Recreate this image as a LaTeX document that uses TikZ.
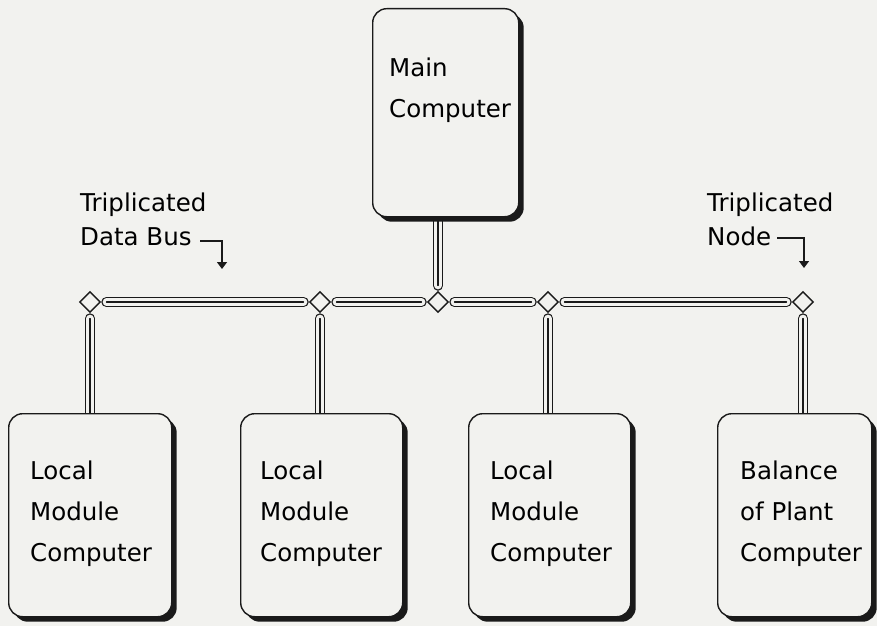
\documentclass[tikz,border=0pt]{standalone}
\usepackage{fontspec}
\setmainfont{DejaVu Sans}
\usetikzlibrary{shapes.geometric,arrows.meta,backgrounds,shadows}
\definecolor{paper}{HTML}{F2F2EF}
\definecolor{ink}{HTML}{1A1A1A}
\tikzset{
  % computer box with a solid offset shadow
  compbox/.style={draw=ink, line width=1.4pt, fill=paper, rounded corners=14pt,
    anchor=north west, inner sep=0pt,
    drop shadow={shadow xshift=5pt, shadow yshift=-5pt, fill=ink, opacity=1}},
  % left-aligned caption inside a box (placed by the baseline of its last line)
  boxtext/.style={anchor=base west, inner sep=0pt, align=left,
    font=\fontsize{24.5}{41}\selectfont},
  % bus junction
  junction/.style={diamond, draw=ink, line width=1.3pt, fill=paper,
    minimum width=24pt, minimum height=24pt, inner sep=0pt, outer sep=4.5pt},
  % triplicated bus line: three parallel strokes with rounded ends
  busline/.style={draw=ink, line width=1.3pt, line cap=round,
    preaction={draw=ink, line width=10.5pt, line cap=round},
    preaction={draw=paper, line width=7.7pt, line cap=round}},
  callout/.style={align=left, anchor=base west, inner sep=0pt,
    font=\fontsize{24.5}{34}\selectfont},
  pointer/.style={draw=ink, line width=1.4pt, -{Triangle[width=10pt,length=7pt]}}
}
\begin{document}
\begin{tikzpicture}[x=1pt, y=-1pt]
\useasboundingbox (0,0) rectangle (877,626);

% computers
\node[compbox, minimum width=146pt, minimum height=208pt] (main) at (372,8) {};
\node[boxtext] (mainTxt) at (389,117) {Main\\Computer};

\node[compbox, minimum width=163pt, minimum height=203pt] (lm1) at (8,413) {};
\node[compbox, minimum width=162pt, minimum height=203pt] (lm2) at (240,413) {};
\node[compbox, minimum width=162pt, minimum height=203pt] (lm3) at (468,413) {};
\node[compbox, minimum width=154pt, minimum height=203pt] (bop) at (717,413) {};

\node[boxtext] (t1) at (30,561) {Local\\Module\\Computer};
\node[boxtext] (t2) at (260,561) {Local\\Module\\Computer};
\node[boxtext] (t3) at (490,561) {Local\\Module\\Computer};
\node[boxtext] (t4) at (740,561) {Balance\\of Plant\\Computer};

% bus junctions
\node[junction] (j1) at (90,302) {};
\node[junction] (j2) at (320,302) {};
\node[junction] (j3) at (438,302) {};
\node[junction] (j4) at (548,302) {};
\node[junction] (j5) at (803,302) {};

% triplicated data bus and drops, kept behind boxes and junctions
\begin{scope}[on background layer]
  \fill[paper] (0,0) rectangle (877,626);
  \draw[busline] (j1.east) -- (j2.west);
  \draw[busline] (j2.east) -- (j3.west);
  \draw[busline] (j3.east) -- (j4.west);
  \draw[busline] (j4.east) -- (j5.west);
  \draw[busline] (main.south -| j3) -- (j3.north);
  \draw[busline] (j1.south) -- (lm1.north -| j1);
  \draw[busline] (j2.south) -- (lm2.north -| j2);
  \draw[busline] (j4.south) -- (lm3.north -| j4);
  \draw[busline] (j5.south) -- (bop.north -| j5);
\end{scope}

% callouts
\node[callout] (busLbl) at (80,245) {Triplicated\\Data Bus};
\node[callout] (nodeLbl) at (707,245) {Triplicated\\Node};
\coordinate (busFrom) at (200,241);
\coordinate (busTurn) at (222,241);
\coordinate (busTip) at (222,269);
\coordinate (nodeFrom) at (777,238);
\coordinate (nodeTurn) at (804,238);
\coordinate (nodeTip) at (804,268);
\draw[pointer] (busFrom) -- (busTurn) -- (busTip);
\draw[pointer] (nodeFrom) -- (nodeTurn) -- (nodeTip);
\end{tikzpicture}
\end{document}
